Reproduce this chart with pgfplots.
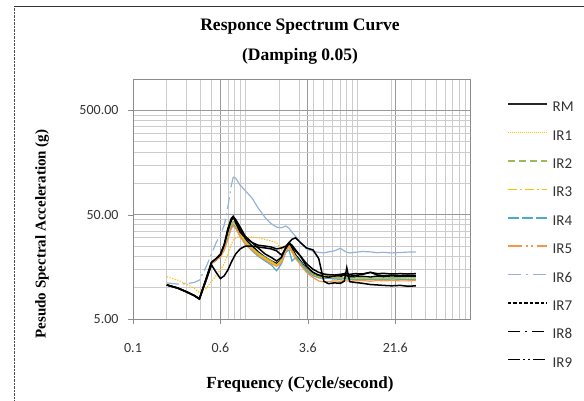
\documentclass[border=0pt]{standalone}
\usepackage{fontspec}
\setmainfont{Liberation Serif}
\newfontfamily\calibri{Carlito}
\usepackage{pgfplots}
\pgfplotsset{compat=1.18}
\usepackage{pgfplotstable}

\definecolor{irgold}{HTML}{FFC000}
\definecolor{irolive}{HTML}{9BBB59}
\definecolor{irteal}{HTML}{4BACC6}
\definecolor{irorange}{HTML}{F79646}
\definecolor{irblue}{HTML}{95B3D7}

% response spectra (g)
\pgfplotstableread{
f     RM    IR1   IR2   IR3   IR4   IR5   IR6   IR7   IR8   IR9
0.2   10.6  12.7  10.6  10.6  10.6  10.6  11.1  10.6  10.6  10.6
0.25  9.9   11.8  9.9   9.9   9.9   9.9   10.8  9.9   9.9   9.9
0.3   9.1   10.8  9.1   9.1   9.1   9.1   10.9  9.1   9.1   9.1
0.35  8.4   9.8   8.4   8.4   8.4   8.4   11.2  8.4   8.4   8.4
0.39  7.8   9.0   7.8   7.8   7.8   7.8   11.8  7.8   7.8   7.8
0.45  12    9.8   12    12    12    12    16    12.2  12.5  12
0.5   17    11.5  17.2  17    17    17    21    17.5  17.5  16.5
0.55  18.5  13    18.8  18.5  18.6  18.5  27    19    19    14
0.6   20.5  14.8  20    19.8  20    19.5  32    21    20.5  12.2
0.65  25    17    24    23    24    23    40    26    26    13
0.7   34    21    31    30    30    29    60    36    37    14.8
0.75  44    26    40    38    38    37    95    45    46    17.5
0.78  47    28.5  43    41    40    39    115   48    48    19
0.82  44    30    41    39    38    37    112   45    42    21
0.9   36    31    34    33    31    31    96    38    34    23.5
1.0   29    30.5  28    27    26    26    85    31    30    25
1.15  25    30.5  24    23.5  22.5  23    72    27    27    25
1.3   22    30    21.5  21    20    20.5  58    24    25.5  24.5
1.5   19.5  29    19.5  19    18    18.5  47    21    25    24
1.7   18    28    18    17.5  16.5  17    41    19.5  24.5  23.5
1.9   17    27    16.5  16.5  14.5  16    38    18    23.5  22.5
2.1   18.5  23    18.5  18    17    17.5  37.5  19.5  24    20.5
2.3   24    25    23    22.5  22    22.5  39    24.5  25    24
2.45  26.5  25.5  25    24.5  23    25    37    27    27    26.5
2.6   24    23    22.5  22    18    22    34    25.5  29    25
2.8   20.5  20    20    19.5  19.5  19    31    23    30    22.5
3.1   18    17    17.5  17    17.5  16.5  27    20    27    20
3.5   15    14.5  15    14.5  14.5  14    23.5  16    24    17
4.0   13.5  13.2  13.6  13.2  13    12.5  22.3  14    23    15
4.5   12.8  12.6  13.2  12.7  12.4  11.6  21.8  13.2  19    14
5.0   12.5  12.3  13.4  12.5  12.2  11.3  21.5  12.8  11.5  13.5
5.5   12.6  13.2  12.9  12.8  12.3  11.4  22.0  12.6  10.9  13.3
6.2   12.3  12.4  12.6  12.3  12.1  11.6  22.5  12.9  11.1  13.2
7.0   12.5  12.1  12.4  12.2  12.0  11.5  23.8  13.0  11.0  13.4
7.6   13.6  12.3  12.6  12.4  12.2  11.7  22.5  13.2  11.5  13.6
8.0   13.0  12.5  12.5  12.3  12.1  11.6  21.8  13.1  15.5  13.6
8.5   12.7  12.2  12.3  12.1  12.0  11.5  21.5  12.9  11.4  13.4
9.5   12.6  12.2  12.4  12.0  11.9  11.6  21.8  13.0  11.2  13.6
11    12.8  12.4  12.5  12.2  12.0  11.7  22.2  13.4  11.0  13.5
13    12.6  12.1  12.3  12.0  11.9  11.5  22.0  14.0  10.7  14.0
15    12.9  12.3  12.4  12.1  12.0  11.7  21.6  13.2  10.6  13.6
17    12.7  12.2  12.3  12.0  11.9  11.6  21.8  13.0  10.5  13.7
20    13.0  12.4  12.5  12.2  12.1  11.7  21.5  13.1  10.4  13.5
24    12.8  12.3  12.4  12.1  12.0  11.6  21.7  13.0  10.5  13.6
28    12.8  12.2  12.4  12.0  11.9  11.6  21.9  13.0  10.3  13.5
33    12.8  12.3  12.4  12.1  12.0  11.7  22.0  13.0  10.4  13.6
}\spectra

\begin{document}
\begin{tikzpicture}[x=1pt,y=1pt]
\useasboundingbox (0,0) rectangle (584,400);
\draw[densely dotted, black!70] (14,0) -- (14,394);
\draw[black!80] (14,394) -- (584,394);

\node[font=\bfseries\fontsize{17.5}{20}\selectfont] at (300,373) {Responce Spectrum Curve};
\node[font=\bfseries\fontsize{17.5}{20}\selectfont] at (300,344) {(Damping 0.05)};
\node[rotate=90, font=\bfseries\fontsize{15}{18}\selectfont] at (42,166) {Pesudo Spectral Acceleration (g)};
\node[font=\bfseries\fontsize{17}{20}\selectfont] at (300,16) {Frequency (Cycle/second)};

\begin{axis}[
    at={(133pt,81pt)}, anchor=south west,
    scale only axis, width=337pt, height=240pt,
    xmode=log, ymode=log,
    xmin=0.1, xmax=100, ymin=5, ymax=1000,
    xtick={0.1,0.6,3.6,21.6}, xticklabels={0.1,0.6,3.6,21.6},
    ytick={5,50,500}, yticklabels={5.00,50.00,500.00},
    minor xtick={0.2,0.3,0.4,0.5,0.7,0.8,0.9,1,2,3,4,5,6,7,8,9,10,20,30,40,50,60,70,80,90},
    minor ytick={10,15,20,25,30,35,40,45,100,150,200,250,300,350,400,450},
    grid=both,
    major grid style={black!40, line width=0.8pt},
    minor grid style={black!20, line width=0.7pt},
    axis line style={black!45},
    tick style={black!45},
    tick align=outside, tick pos=left,
    major tick length=5pt, minor tick length=0pt,
    ticklabel style={font=\calibri\fontsize{14}{16}\selectfont, text=black!80},
    xticklabel style={yshift=-16pt},
    yticklabel style={xshift=-6pt},
    legend style={at={(1,1)}, anchor=north west, xshift=37pt, yshift=-22pt,
        draw=none, fill=none, inner sep=0pt,
        font=\calibri\fontsize{15}{17}\selectfont, text=black!80,
        row sep=14.9pt,
        /tikz/every odd column/.append style={column sep=5pt},
        nodes={inner sep=0pt, text height=10.5pt, text depth=3pt}},
    legend cell align=left,
    legend image code/.code={\draw[#1] (0pt,3.8pt) -- (39pt,3.8pt);},
]
% curves (Excel restarts dashes on every short segment, so they read as solid)
\addplot[black, line width=1.6pt, forget plot] table[x=f, y=RM] {\spectra};
\addplot[irgold, line width=1.1pt, dash pattern=on 1.2pt off 1.5pt, forget plot] table[x=f, y=IR1] {\spectra};
\addplot[irolive, line width=1.2pt, forget plot] table[x=f, y=IR2] {\spectra};
\addplot[irgold, line width=1.2pt, forget plot] table[x=f, y=IR3] {\spectra};
\addplot[irteal, line width=1.2pt, forget plot] table[x=f, y=IR4] {\spectra};
\addplot[irorange, line width=1.2pt, forget plot] table[x=f, y=IR5] {\spectra};
\addplot[irblue, line width=1.2pt, dash pattern=on 12pt off 4pt on 2pt off 4pt, forget plot,
    skip coords between index={13}{100}] table[x=f, y=IR6] {\spectra};
\addplot[irblue, line width=1.2pt, forget plot,
    skip coords between index={0}{12}] table[x=f, y=IR6] {\spectra};
\addplot[black, line width=1.5pt, forget plot] table[x=f, y=IR7] {\spectra};
\addplot[black, line width=1.5pt, forget plot] table[x=f, y=IR8] {\spectra};
\addplot[black, line width=1.5pt, forget plot] table[x=f, y=IR9] {\spectra};

% legend
\addlegendimage{black!85, line width=1.5pt}
\addlegendentry{RM}
\addlegendimage{irgold, line width=1.1pt, dash pattern=on 1pt off 1pt}
\addlegendentry{IR1}
\addlegendimage{irolive, line width=1.5pt, dash pattern=on 7pt off 4pt}
\addlegendentry{IR2}
\addlegendimage{irgold, line width=1.5pt, dash pattern=on 9pt off 3pt on 2pt off 3pt}
\addlegendentry{IR3}
\addlegendimage{irteal, line width=1.5pt, dash pattern=on 11pt off 3pt}
\addlegendentry{IR4}
\addlegendimage{irorange, line width=1.5pt, dash pattern=on 14pt off 4pt on 2pt off 3pt on 2pt off 4pt}
\addlegendentry{IR5}
\addlegendimage{irblue, line width=1.5pt, dash pattern=on 13pt off 5pt on 2pt off 5pt}
\addlegendentry{IR6}
\addlegendimage{black, line width=1.3pt, dash pattern=on 3.5pt off 2pt}
\addlegendentry{IR7}
\addlegendimage{black, line width=1.4pt, dash pattern=on 12pt off 5pt on 2pt off 5pt}
\addlegendentry{IR8}
\addlegendimage{black, line width=1.4pt, dash pattern=on 12pt off 3pt on 2pt off 3pt on 2pt off 3pt}
\addlegendentry{IR9}
\end{axis}
\end{tikzpicture}
\end{document}
